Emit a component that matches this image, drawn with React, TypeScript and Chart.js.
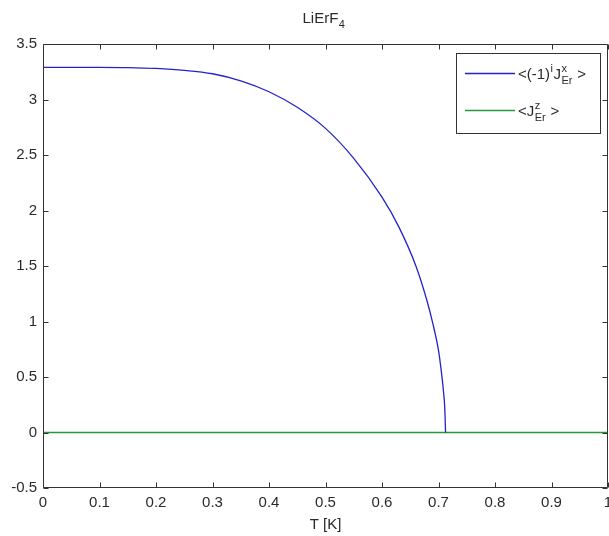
import React, { useEffect, useRef } from 'react';
import { Chart, registerables } from 'chart.js';

Chart.register(...registerables);

// ---- data ----
const titleMain = 'LiErF';
const titleSub = '4';
const xAxisTitle = 'T [K]';

const xMin = 0;
const xMax = 1;
const xStep = 0.1;
const yMin = -0.5;
const yMax = 3.5;
const yStep = 0.5;

// <(-1)^i J^x_Er>
const tX = [0, 0.1, 0.15, 0.2, 0.25, 0.3, 0.35, 0.4, 0.45, 0.5, 0.55, 0.6, 0.63, 0.66, 0.68, 0.69, 0.7, 0.705, 0.709, 0.711, 0.7125];
const jX = [3.29, 3.29, 3.288, 3.28, 3.263, 3.232, 3.168, 3.07, 2.93, 2.74, 2.47, 2.12, 1.85, 1.5, 1.18, 0.98, 0.74, 0.55, 0.36, 0.23, 0];

// <J^z_Er>
const tZ = [0, 1];
const jZ = [0, 0];

// legend label segments: [text, kind, subText]
const legendLabel1: [string, string, string?][] = [['<(-1)', 'n'], ['i', 'sup'], ['J', 'n'], ['x', 'stack', 'Er'], [' >', 'n']];
const legendLabel2: [string, string, string?][] = [['<J', 'n'], ['z', 'stack', 'Er'], [' >', 'n']];

const blue = 'rgb(35,35,200)';
const green = 'rgb(40,150,60)';
const axisColor = '#333333';
const textColor = '#2a2a2a';
const FONT = '"Liberation Sans", Arial, sans-serif';
const mainSize = 15;
const smallSize = 11;

function drawSegments(ctx: CanvasRenderingContext2D, segs: [string, string, string?][], x: number, base: number) {
  let cx = x;
  for (const [t, kind, sub] of segs) {
    if (kind === 'n') {
      ctx.font = `${mainSize}px ${FONT}`;
      ctx.fillText(t, cx, base);
      cx += ctx.measureText(t).width;
    } else if (kind === 'sup') {
      ctx.font = `${smallSize}px ${FONT}`;
      ctx.fillText(t, cx + 0.5, base - 7);
      cx += ctx.measureText(t).width + 1;
    } else {
      ctx.font = `${smallSize}px ${FONT}`;
      const w1 = ctx.measureText(t).width;
      const w2 = ctx.measureText(sub || '').width;
      ctx.fillText(t, cx + 0.5, base - 7);
      ctx.fillText(sub || '', cx + 0.5, base + 5);
      cx += Math.max(w1, w2) + 1;
    }
  }
}

const decorPlugin = {
  id: 'decor',
  afterDatasetsDraw(chart: any) {
    const { ctx, chartArea: a, scales } = chart;
    const xs = scales.x;
    const ys = scales.y;
    const L = Math.round(a.left) + 0.5;
    const R = Math.round(a.right) - 0.5;
    const T = Math.round(a.top) + 0.5;
    const B = Math.round(a.bottom) - 0.5;
    ctx.save();
    ctx.strokeStyle = axisColor;
    ctx.lineWidth = 1;
    ctx.beginPath();
    ctx.rect(L, T, R - L, B - T);
    const tl = 5;
    for (const tk of xs.ticks) {
      const px = Math.round(xs.getPixelForValue(tk.value)) + 0.5;
      ctx.moveTo(px, B);
      ctx.lineTo(px, B - tl);
      ctx.moveTo(px, T);
      ctx.lineTo(px, T + tl);
    }
    for (const tk of ys.ticks) {
      const py = Math.round(ys.getPixelForValue(tk.value)) + 0.5;
      ctx.moveTo(L, py);
      ctx.lineTo(L + tl, py);
      ctx.moveTo(R, py);
      ctx.lineTo(R - tl, py);
    }
    ctx.stroke();
    ctx.restore();
  },
  afterDraw(chart: any) {
    const { ctx, chartArea: a } = chart;
    ctx.save();
    // title
    ctx.fillStyle = textColor;
    ctx.textBaseline = 'alphabetic';
    ctx.textAlign = 'left';
    ctx.font = `${mainSize}px ${FONT}`;
    const w1 = ctx.measureText(titleMain).width;
    ctx.font = `${smallSize}px ${FONT}`;
    const w2 = ctx.measureText(titleSub).width;
    const cx = (a.left + a.right) / 2 - 2;
    const tx = cx - (w1 + w2) / 2;
    ctx.font = `${mainSize}px ${FONT}`;
    ctx.fillText(titleMain, tx, 23);
    ctx.font = `${smallSize}px ${FONT}`;
    ctx.fillText(titleSub, tx + w1 + 0.5, 28);

    // legend
    const bx = 456.5, by = 53.5, bw = 144, bh = 80;
    ctx.fillStyle = '#ffffff';
    ctx.fillRect(bx, by, bw, bh);
    ctx.strokeStyle = axisColor;
    ctx.lineWidth = 1;
    ctx.strokeRect(bx, by, bw, bh);
    const rows = [
      { color: blue, y: 73.5, label: legendLabel1 },
      { color: green, y: 110.5, label: legendLabel2 },
    ];
    for (const r of rows) {
      ctx.strokeStyle = r.color;
      ctx.lineWidth = 1.3;
      ctx.beginPath();
      ctx.moveTo(465, r.y);
      ctx.lineTo(515, r.y);
      ctx.stroke();
      ctx.fillStyle = textColor;
      drawSegments(ctx, r.label, 518, r.y + 5.5);
    }
    ctx.restore();
  },
};

export default function App() {
  const ref = useRef<HTMLCanvasElement | null>(null);
  useEffect(() => {
    document.body.style.margin = '0';
    document.body.style.background = '#ffffff';
    const canvas = ref.current;
    if (!canvas) return;
    const chart = new Chart(canvas, {
      type: 'line',
      data: {
        datasets: [
          {
            label: '<(-1)^i J^x_Er>',
            data: tX.map((t, i) => ({ x: t, y: jX[i] })),
            borderColor: blue,
            borderWidth: 1.3,
            pointRadius: 0,
            fill: false,
            cubicInterpolationMode: 'monotone',
          },
          {
            label: '<J^z_Er>',
            data: tZ.map((t, i) => ({ x: t, y: jZ[i] })),
            borderColor: green,
            borderWidth: 1.3,
            pointRadius: 0,
            fill: false,
          },
        ],
      },
      options: {
        responsive: false,
        animation: false,
        events: [],
        layout: { padding: { top: 44, right: 1, bottom: 0, left: 0 } },
        plugins: {
          legend: { display: false },
          title: { display: false },
          tooltip: { enabled: false },
        },
        scales: {
          x: {
            type: 'linear',
            min: xMin,
            max: xMax,
            grid: { display: false, drawTicks: false },
            border: { display: false },
            ticks: {
              stepSize: xStep,
              padding: 6,
              color: textColor,
              font: { family: FONT, size: mainSize },
              maxRotation: 0,
              autoSkip: false,
              callback: (v: any) => String(Number(Number(v).toFixed(1))),
            },
            title: {
              display: true,
              text: xAxisTitle,
              color: textColor,
              font: { family: FONT, size: mainSize },
              padding: { top: 2, bottom: 2 },
            },
            afterFit: (s: any) => {
              s.height = 48;
              s.paddingLeft = 0;
              s.paddingRight = 0;
            },
          },
          y: {
            type: 'linear',
            min: yMin,
            max: yMax,
            grid: { display: false, drawTicks: false },
            border: { display: false },
            ticks: {
              stepSize: yStep,
              padding: 6,
              color: textColor,
              font: { family: FONT, size: mainSize },
              autoSkip: false,
              callback: (v: any) => String(Number(Number(v).toFixed(1))),
            },
            afterFit: (s: any) => {
              s.width = 43;
              s.paddingTop = 0;
              s.paddingBottom = 0;
            },
          },
        },
      },
      plugins: [decorPlugin],
    } as any);
    return () => chart.destroy();
  }, []);
  return <canvas ref={ref} width={609} height={536} style={{ display: 'block' }} />;
}
